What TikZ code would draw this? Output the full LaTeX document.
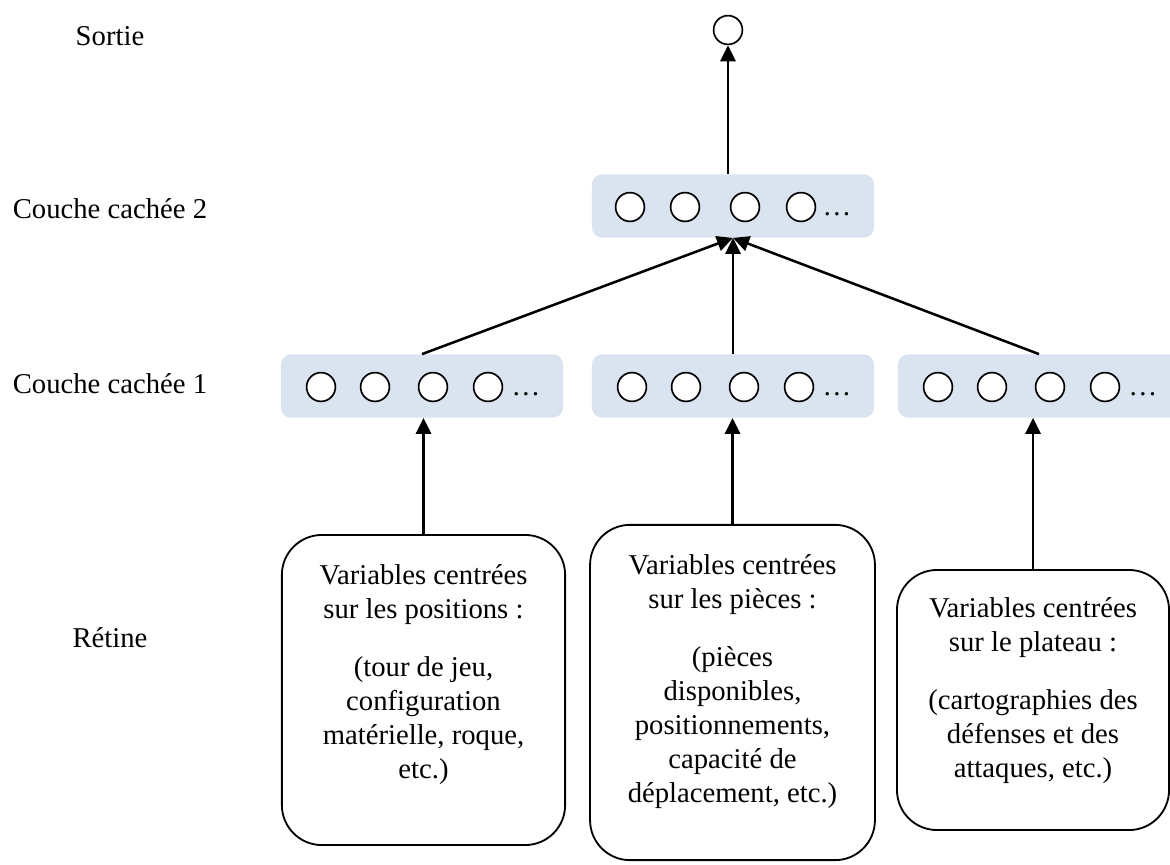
\documentclass[tikz,border=0pt]{standalone}
\usepackage{fontspec}
\setmainfont{Liberation Serif}
\usetikzlibrary{positioning, arrows.meta}
\definecolor{layerblue}{RGB}{218,227,240}
\tikzset{
    >={Triangle[length=0.4cm,width=0.38cm]}, % Filled arrowheads
    every node/.style={font=\fontsize{20.4}{24.2}\selectfont}, % Text size
    unit/.style={circle, draw, line width=1.2pt, fill=white, minimum size=0.72cm, inner sep=0pt}, % Neurons
    layerbox/.style={rectangle, rounded corners=0.25cm, fill=layerblue, minimum width=7.05cm, minimum height=1.58cm}, % Hidden layers
    retbox/.style={rectangle, rounded corners=1cm, draw, line width=1.3pt}, % Retina groups
    boxtext/.style={align=center, inner sep=0pt}, % Text inside the groups
    link/.style={->, line width=1.8pt}, % Connections
}

\begin{document}
\begin{tikzpicture}[x=0.025cm, y=-0.025cm]
  \useasboundingbox (0,0) rectangle (1170,864);

  \node[anchor=base] (lsortie) at (110,45) {Sortie};
  \node[anchor=base] (lcouche2) at (110,218) {Couche cachée 2};
  \node[anchor=base] (lcouche1) at (110,393) {Couche cachée 1};
  \node[anchor=base] (lretine) at (110,647) {Rétine};

  \node[unit] (out) at (728,30) {};

  \node[layerbox] (h2) at (733,206) {};
  \foreach \k/\dx in {1/-103,2/-48,3/12,4/68}
    \node[unit] (h2n\k) at ({733+\dx},207) {};
  \node[anchor=base] (dots2) at (837,215) {\ldots};

  \foreach \col/\cx in {a/422,b/733,c/1039} {
    \node[layerbox] (h1\col) at (\cx,386) {};
    \foreach \k/\dx in {1/-101,2/-47,3/11,4/66}
      \node[unit] (h1\col\k) at ({\cx+\dx},387) {};
    \node[anchor=base] (dots\col) at ({\cx+104},395) {\ldots};
  }

  \node[retbox, minimum width=7.08cm, minimum height=7.75cm] (ra) at (423.5,690) {};
  \node[boxtext, below=0.76cm of ra.north] (ta) {Variables centrées\\sur les positions :\\[0.6cm](tour de jeu,\\configuration\\matérielle, roque,\\etc.)};

  \node[retbox, minimum width=7.12cm, minimum height=8.38cm] (rb) at (732.5,692.5) {};
  \node[boxtext, below=0.76cm of rb.north] (tb) {Variables centrées\\sur les pièces :\\[0.6cm](pièces\\disponibles,\\positionnements,\\capacité de\\déplacement, etc.)};

  \node[retbox, minimum width=6.8cm, minimum height=6.5cm] (rc) at (1033,700) {};
  \node[boxtext, below=0.7cm of rc.north] (tc) {Variables centrées\\sur le plateau :\\[0.6cm](cartographies des\\défenses et des\\attaques, etc.)};

  \draw[link] (ra.north) -- (ra.north |- h1a.south);
  \draw[link] (rb.north) -- (rb.north |- h1b.south);
  \draw[link] (rc.north) -- (rc.north |- h1c.south);

  \draw[link] (h1a.north) -- (h2.south);
  \draw[link] (h1b.north) -- (h2.south);
  \draw[link] (h1c.north) -- (h2.south);

  \draw[link] (out.south |- h2.north) -- (out.south);
\end{tikzpicture}
\end{document}
